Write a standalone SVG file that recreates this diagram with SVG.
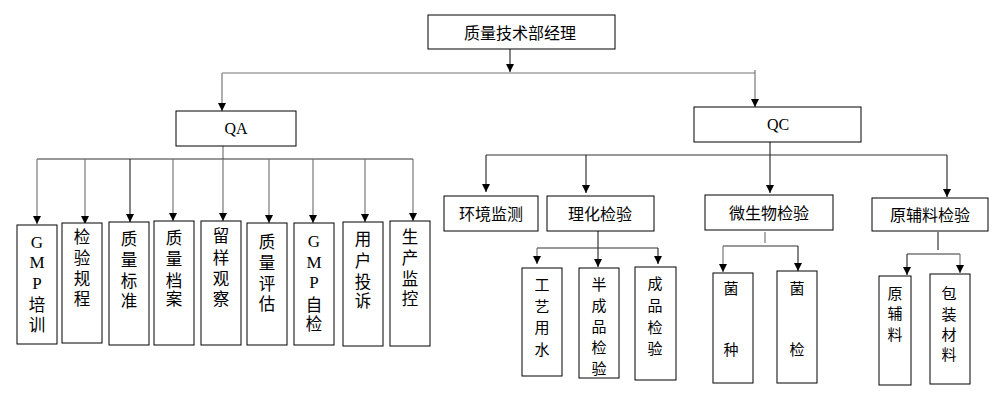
<svg xmlns="http://www.w3.org/2000/svg" width="1006" height="402" viewBox="0 0 1006 402">
<defs>
<style>
.box{fill:#fff;stroke:#000;stroke-width:1}
.t{font-family:"Noto Sans CJK SC","Noto Sans",sans-serif;font-size:16px;fill:#000;text-anchor:middle;dominant-baseline:central}
.v{font-family:"Noto Sans CJK SC","Noto Sans",sans-serif;font-size:16.5px;fill:#000;text-anchor:middle;dominant-baseline:central}
.s{font-family:"Noto Sans CJK SC","Noto Sans",sans-serif;font-size:15px;fill:#000;text-anchor:middle;dominant-baseline:central}
.l{font-family:"Liberation Serif","Times New Roman",serif;font-size:17px;fill:#000;text-anchor:middle;dominant-baseline:central}
.q{font-family:"Liberation Serif","Times New Roman",serif;font-size:16px;fill:#000;text-anchor:middle;dominant-baseline:central}
.c{fill:none;stroke:#333;stroke-width:1.2}
.g{fill:none;stroke:#777;stroke-width:1.2}
</style>
<marker id="ah" viewBox="0 0 10 10" refX="10" refY="5" markerWidth="8" markerHeight="8" markerUnits="userSpaceOnUse" orient="auto">
<path d="M0,0 L10,5 L0,10 z" fill="#000"/>
</marker>
</defs>
<g id="connectors">
<line class="c" x1="510" y1="49" x2="510" y2="72" marker-end="url(#ah)"/>
<line class="g" x1="222" y1="73" x2="755" y2="73"/>
<line class="g" x1="222" y1="73" x2="222" y2="111" marker-end="url(#ah)"/>
<line class="g" x1="755" y1="70" x2="755" y2="107" marker-end="url(#ah)"/>
<line class="g" x1="223" y1="146" x2="223" y2="159"/>
<line class="c" x1="37" y1="159" x2="413" y2="159"/>
<line class="g" x1="37" y1="159" x2="37" y2="224" marker-end="url(#ah)"/>
<line class="g" x1="85" y1="159" x2="85" y2="224" marker-end="url(#ah)"/>
<line class="c" x1="130" y1="159" x2="130" y2="222" marker-end="url(#ah)"/>
<line class="g" x1="173" y1="159" x2="173" y2="221" marker-end="url(#ah)"/>
<line class="g" x1="223" y1="159" x2="223" y2="221" marker-end="url(#ah)"/>
<line class="g" x1="269" y1="159" x2="269" y2="223" marker-end="url(#ah)"/>
<line class="g" x1="313" y1="159" x2="313" y2="223" marker-end="url(#ah)"/>
<line class="g" x1="365" y1="159" x2="365" y2="222" marker-end="url(#ah)"/>
<line class="g" x1="413" y1="159" x2="413" y2="221" marker-end="url(#ah)"/>
<line class="c" x1="770" y1="142" x2="770" y2="193" marker-end="url(#ah)"/>
<line class="c" x1="486" y1="155" x2="947" y2="155"/>
<line class="c" x1="486" y1="155" x2="486" y2="192" marker-end="url(#ah)"/>
<line class="c" x1="586" y1="155" x2="586" y2="193" marker-end="url(#ah)"/>
<line class="c" x1="947" y1="155" x2="947" y2="197" marker-end="url(#ah)"/>
<line class="c" x1="598" y1="231" x2="598" y2="267" marker-end="url(#ah)"/>
<line class="c" x1="537" y1="248" x2="658" y2="248"/>
<line class="g" x1="537" y1="248" x2="537" y2="264" marker-end="url(#ah)"/>
<line class="c" x1="658" y1="248" x2="658" y2="264" marker-end="url(#ah)"/>
<line class="g" x1="765" y1="232" x2="765" y2="243"/>
<line class="c" x1="723" y1="246" x2="798" y2="246"/>
<line class="g" x1="723" y1="246" x2="723" y2="272" marker-end="url(#ah)"/>
<line class="c" x1="798" y1="246" x2="798" y2="271" marker-end="url(#ah)"/>
<line class="c" x1="938" y1="232" x2="938" y2="250"/>
<line class="c" x1="907" y1="254" x2="960" y2="254"/>
<line class="c" x1="907" y1="254" x2="907" y2="275" marker-end="url(#ah)"/>
<line class="g" x1="960" y1="254" x2="960" y2="273" marker-end="url(#ah)"/>
</g>
<g id="n-manager"><rect class="box" x="428" y="15" width="187" height="34"/><text class="t" x="520" y="32">质量技术部经理</text></g>
<g id="n-qa"><rect class="box" x="176" y="111" width="120" height="35"/><text class="q" x="236" y="128">QA</text></g>
<g id="n-qc"><rect class="box" x="694" y="107" width="167" height="35"/><text class="q" x="778" y="124">QC</text></g>
<g id="n-gmp-train"><rect class="box" x="17" y="225" width="40" height="119"/>
<text class="l" x="37" y="242">G</text><text class="l" x="37" y="262">M</text><text class="l" x="37" y="283">P</text>
<text class="v" x="37" y="304">培</text><text class="v" x="37" y="324">训</text></g>
<g id="n-inspect-rules"><rect class="box" x="62" y="223" width="40" height="120"/>
<text class="v" x="82" y="236">检</text><text class="v" x="82" y="257">验</text><text class="v" x="82" y="278">规</text><text class="v" x="82" y="298">程</text></g>
<g id="n-quality-std"><rect class="box" x="109" y="222" width="40" height="123"/>
<text class="v" x="129" y="238">质</text><text class="v" x="129" y="259">量</text><text class="v" x="129" y="280">标</text><text class="v" x="129" y="300">准</text></g>
<g id="n-quality-file"><rect class="box" x="154" y="221" width="40" height="124"/>
<text class="v" x="174" y="237">质</text><text class="v" x="174" y="258">量</text><text class="v" x="174" y="280">档</text><text class="v" x="174" y="298">案</text></g>
<g id="n-sample"><rect class="box" x="201" y="221" width="40" height="124"/>
<text class="v" x="221" y="235">留</text><text class="v" x="221" y="257">样</text><text class="v" x="221" y="278">观</text><text class="v" x="221" y="298">察</text></g>
<g id="n-quality-eval"><rect class="box" x="247" y="223" width="40" height="122"/>
<text class="v" x="267" y="241">质</text><text class="v" x="267" y="262">量</text><text class="v" x="267" y="283">评</text><text class="v" x="267" y="303">估</text></g>
<g id="n-gmp-self"><rect class="box" x="294" y="223" width="40" height="122"/>
<text class="l" x="314" y="241">G</text><text class="l" x="314" y="262">M</text><text class="l" x="314" y="282">P</text>
<text class="v" x="314" y="304">自</text><text class="v" x="314" y="323">检</text></g>
<g id="n-complaint"><rect class="box" x="343" y="222" width="40" height="124"/>
<text class="v" x="363" y="238">用</text><text class="v" x="363" y="260">户</text><text class="v" x="363" y="281">投</text><text class="v" x="363" y="300">诉</text></g>
<g id="n-prod-monitor"><rect class="box" x="390" y="221" width="40" height="125"/>
<text class="v" x="410" y="236">生</text><text class="v" x="410" y="257">产</text><text class="v" x="410" y="278">监</text><text class="v" x="410" y="298">控</text></g>
<g id="n-env"><rect class="box" x="444" y="196" width="94" height="35"/><text class="t" x="491" y="213">环境监测</text></g>
<g id="n-physchem"><rect class="box" x="547" y="196" width="107" height="35"/><text class="t" x="600" y="213">理化检验</text></g>
<g id="n-micro"><rect class="box" x="705" y="195" width="128" height="35"/><text class="t" x="769" y="212">微生物检验</text></g>
<g id="n-raw"><rect class="box" x="872" y="198" width="116" height="33"/><text class="t" x="930" y="214">原辅料检验</text></g>
<g id="n-water"><rect class="box" x="522" y="268" width="40" height="108"/>
<text class="s" x="542" y="283">工</text><text class="s" x="542" y="305">艺</text><text class="s" x="542" y="326">用</text><text class="s" x="542" y="348">水</text></g>
<g id="n-semi"><rect class="box" x="579" y="268" width="40" height="110"/>
<text class="s" x="599" y="283">半</text><text class="s" x="599" y="304">成</text><text class="s" x="599" y="325">品</text><text class="s" x="599" y="346">检</text><text class="s" x="599" y="367">验</text></g>
<g id="n-final"><rect class="box" x="635" y="267" width="41" height="113"/>
<text class="s" x="655" y="282">成</text><text class="s" x="655" y="304">品</text><text class="s" x="655" y="326">检</text><text class="s" x="655" y="347">验</text></g>
<g id="n-strain"><rect class="box" x="713" y="273" width="40" height="110"/>
<text class="s" x="731" y="287">菌</text><text class="s" x="731" y="348">种</text></g>
<g id="n-bact"><rect class="box" x="777" y="271" width="40" height="112"/>
<text class="s" x="797" y="287">菌</text><text class="s" x="797" y="348">检</text></g>
<g id="n-rawmat"><rect class="box" x="879" y="276" width="32" height="109"/>
<text class="s" x="895" y="292">原</text><text class="s" x="895" y="312">辅</text><text class="s" x="895" y="333">料</text></g>
<g id="n-pack"><rect class="box" x="930" y="274" width="40" height="110"/>
<text class="s" x="949" y="292">包</text><text class="s" x="949" y="313">装</text><text class="s" x="949" y="333">材</text><text class="s" x="949" y="353">料</text></g>
</svg>
